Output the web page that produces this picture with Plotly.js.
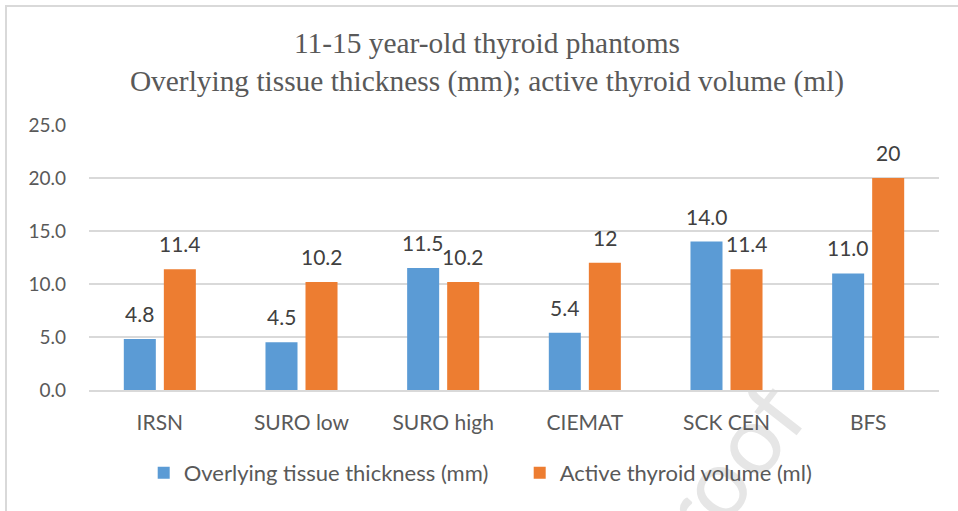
<!DOCTYPE html>
<html>
<head>
<meta charset="utf-8">
<script src="https://cdn.plot.ly/plotly-3.0.1.min.js"></script>
<style>
  html, body { margin: 0; padding: 0; background: #ffffff; }
  #wrap { position: relative; width: 958px; height: 511px; overflow: hidden; background: #ffffff; }
  #wm { position: absolute; left: 0; top: 0; font-family: Lato, "Open Sans", sans-serif; font-size: 96px; color: #e6e6e6;
        transform-origin: center center; white-space: nowrap; }
  #chart { position: absolute; left: 0; top: 0; width: 958px; height: 511px; }
  #frame { position: absolute; left: 5px; top: 5px; width: 1000px; height: 600px; border-left: 2px solid #d9d9d9; border-top: 2px solid #d9d9d9; pointer-events: none; }
</style>
</head>
<body>
<div id="wrap">
  <div id="wm">Proof</div>
  <div id="chart"></div>
  <div id="frame"></div>
</div>
<script>
const categories = ["IRSN", "SURO low", "SURO high", "CIEMAT", "SCK CEN", "BFS"];
const thickness = [4.8, 4.5, 11.5, 5.4, 14.0, 11.0];
const thicknessLabels = ["4.8", "4.5", "11.5", "5.4", "14.0", "11.0"];
const volume = [11.4, 10.2, 10.2, 12, 11.4, 20];
const volumeLabels = ["11.4", "10.2", "10.2", "12", "11.4", "20"];
const yTickVals = [0, 5, 10, 15, 20, 25];
const yTickText = ["0.0", "5.0", "10.0", "15.0", "20.0", "25.0"];
const seriesNames = ["Overlying tissue thickness (mm)", "Active thyroid volume (ml)"];
const titleLines = ["11-15 year-old thyroid phantoms", "Overlying tissue thickness (mm); active thyroid volume (ml)"];

const BLUE = "#5B9BD5", ORANGE = "#ED7D31", TXT = "#404040", TICK = "#595959";
const sans = "Lato, 'Open Sans', sans-serif";

// watermark placement
const wm = document.getElementById('wm');
wm.style.left = (710 - 115) + 'px';
wm.style.top = (485 - 58) + 'px';
wm.style.transform = 'rotate(-52deg)';

const traces = [
  { type: 'bar', name: seriesNames[0], x: categories, y: thickness,
    marker: { color: BLUE, line: { width: 0 } }, hoverinfo: 'skip' },
  { type: 'bar', name: seriesNames[1], x: categories, y: volume,
    marker: { color: ORANGE, line: { width: 0 } }, hoverinfo: 'skip' }
];

const annotations = [];
[[thickness, thicknessLabels, -20], [volume, volumeLabels, 20]].forEach(([vals, labs, dx]) => {
  vals.forEach((v, i) => {
    annotations.push({ x: categories[i], y: v, xref: 'x', yref: 'y', text: labs[i],
      showarrow: false, xanchor: 'center', yanchor: 'bottom', xshift: dx, yshift: 11,
      font: { family: sans, size: 21, color: TXT } });
  });
});

const layout = {
  width: 958, height: 511,
  margin: { l: 89, r: 19, t: 125, b: 121 },
  paper_bgcolor: 'rgba(0,0,0,0)', plot_bgcolor: 'rgba(0,0,0,0)',
  title: { text: titleLines.join('<br>'), x: 487 / 958, xanchor: 'center', xref: 'container',
    y: 1 - 53 / 511, yanchor: 'middle', yref: 'container',
    font: { family: "'Liberation Serif', 'Times New Roman', serif", size: 29.4, color: TICK } },
  barmode: 'group', bargap: 0.435, bargroupgap: 0.2,
  xaxis: { type: 'category', showgrid: false, zeroline: false, showline: true, linecolor: '#d9d9d9', linewidth: 2,
    ticks: '', tickfont: { family: sans, size: 21, color: TICK }, ticklabelstandoff: 13, fixedrange: true },
  yaxis: { range: [0, 25], tickvals: yTickVals, ticktext: yTickText, showgrid: true, gridcolor: '#d9d9d9', gridwidth: 2,
    zeroline: false, showline: false, ticks: '', tickfont: { family: sans, size: 19, color: TICK },
    ticklabelstandoff: 22, fixedrange: true },
  showlegend: true,
  legend: { orientation: 'h', x: 0.15, xanchor: 'left', xref: 'container', y: 1 - 473 / 511, yref: 'container', yanchor: 'middle',
    font: { family: sans, size: 22, color: TICK }, bgcolor: 'rgba(0,0,0,0)', itemwidth: 30, entrywidth: 331, traceorder: 'normal' },
  annotations: annotations
};

Plotly.newPlot('chart', traces, layout, { displayModeBar: false, staticPlot: true });
</script>
</body>
</html>
